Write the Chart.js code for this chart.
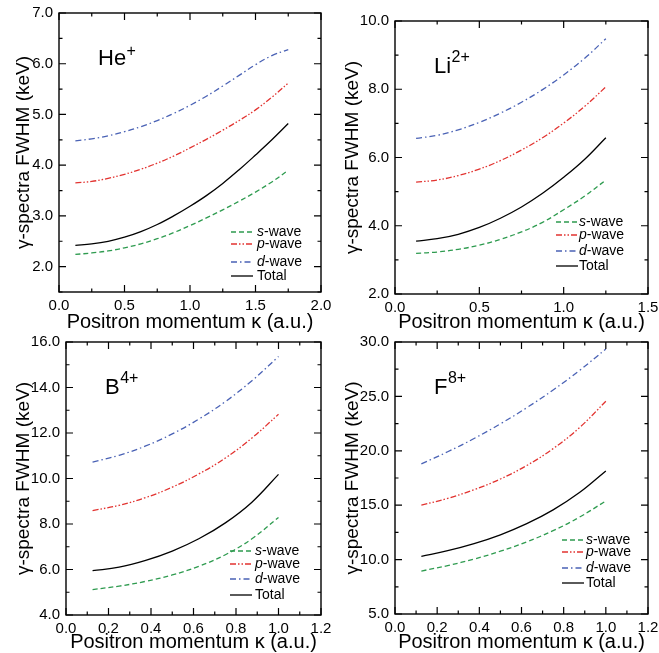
<!DOCTYPE html>
<html lang="en">
<head>
<meta charset="UTF-8" />
<title>Gamma-spectra FWHM vs positron momentum</title>
<script src="https://cdn.jsdelivr.net/npm/chart.js"></script>
<style>
  body { margin: 0; background: #fff; }
  #wrap { position: relative; width: 659px; height: 653px; }
  #wrap canvas { position: absolute; left: 0; top: 0; }
</style>
</head>
<body>
<div id="wrap">
  <canvas id="chartHe" width="659" height="653"></canvas>
  <canvas id="chartLi" width="659" height="653"></canvas>
  <canvas id="chartB" width="659" height="653"></canvas>
  <canvas id="chartF" width="659" height="653"></canvas>
</div>

<script>
  // ---- data (keV) ----
  const heK = [0.125, 0.25, 0.375, 0.5, 0.625, 0.75, 0.875, 1.0, 1.125, 1.25, 1.375, 1.5, 1.625, 1.75];
  const heS = [2.24, 2.27, 2.31, 2.37, 2.45, 2.55, 2.67, 2.81, 2.96, 3.12, 3.29, 3.47, 3.67, 3.90];
  const heP = [3.65, 3.68, 3.74, 3.82, 3.92, 4.04, 4.18, 4.34, 4.51, 4.69, 4.88, 5.09, 5.34, 5.62];
  const heD = [4.48, 4.52, 4.58, 4.66, 4.76, 4.88, 5.02, 5.18, 5.36, 5.56, 5.77, 5.98, 6.16, 6.28];
  const heTot = [2.42, 2.45, 2.50, 2.58, 2.69, 2.83, 3.00, 3.19, 3.40, 3.64, 3.91, 4.20, 4.50, 4.82];

  const liK = [0.125, 0.25, 0.375, 0.5, 0.625, 0.75, 0.875, 1.0, 1.125, 1.25];
  const liS = [3.19, 3.23, 3.31, 3.43, 3.60, 3.82, 4.10, 4.47, 4.87, 5.34];
  const liP = [5.28, 5.34, 5.47, 5.66, 5.91, 6.22, 6.58, 7.01, 7.50, 8.07];
  const liD = [6.56, 6.65, 6.81, 7.03, 7.30, 7.62, 7.99, 8.42, 8.91, 9.48];
  const liTot = [3.55, 3.62, 3.75, 3.95, 4.22, 4.55, 4.95, 5.42, 5.95, 6.58];

  const bK = [0.125, 0.25, 0.375, 0.5, 0.625, 0.75, 0.875, 1.0];
  const bS = [5.12, 5.27, 5.48, 5.76, 6.14, 6.65, 7.35, 8.29];
  const bP = [8.59, 8.82, 9.16, 9.62, 10.20, 10.90, 11.78, 12.82];
  const bD = [10.72, 11.02, 11.43, 11.96, 12.61, 13.38, 14.30, 15.36];
  const bTot = [5.95, 6.10, 6.40, 6.81, 7.35, 8.05, 8.96, 10.18];

  const fK = [0.125, 0.25, 0.375, 0.5, 0.625, 0.75, 0.875, 1.0];
  const fS = [8.95, 9.45, 10.05, 10.77, 11.63, 12.66, 13.90, 15.39];
  const fP = [15.0, 15.63, 16.42, 17.41, 18.65, 20.20, 22.13, 24.55];
  const fD = [18.8, 19.91, 21.13, 22.48, 23.96, 25.59, 27.38, 29.35];
  const fTot = [10.3, 10.82, 11.47, 12.28, 13.30, 14.57, 16.16, 18.15];

  const seriesLabels = ['s-wave', 'p-wave', 'd-wave', 'Total'];
  const xTitle = 'Positron momentum \u03ba (a.u.)';
  const yTitle = '\u03b3-spectra FWHM (keV)';

  const FONT = '"Liberation Sans", Arial, Helvetica, sans-serif';
  const lineStyles = [
    { color: '#2e9b4f', dash: [5, 3] },
    { color: '#e23330', dash: [6, 2, 1.5, 2, 1.5, 2] },
    { color: '#4a62b5', dash: [6, 3, 1.5, 3] },
    { color: '#000000', dash: [] }
  ];

  // panel layout (pixel boxes of each plot frame)
  const panels = [
    { id: 'chartHe', ion: 'He', charge: '+', supDy: -9, k: heK, ys: [heS, heP, heD, heTot],
      ox: 0, area: { left: 59, top: 13, right: 321, bottom: 292 }, xTitleY: 322,
      x: { max: 2.0, step: 0.5, minor: 0.25 }, y: { min: 1.5, max: 7.0, step: 1.0, minor: 0.5 },
      leg: { lx: -90, tx: -64, dy: [-60, -48, -30, -16] } },
    { id: 'chartLi', ion: 'Li', charge: '2+', supDy: -11, k: liK, ys: [liS, liP, liD, liTot],
      ox: 329, area: { left: 395, top: 21, right: 648, bottom: 294 }, xTitleY: 322,
      x: { max: 1.5, step: 0.5, minor: 0.25 }, y: { min: 2.0, max: 10.0, step: 2.0, minor: 1.0 },
      leg: { lx: -92, tx: -69, dy: [-72, -59, -43, -28] } },
    { id: 'chartB', ion: 'B', charge: '4+', supDy: -11, k: bK, ys: [bS, bP, bD, bTot],
      ox: 0, area: { left: 66, top: 342, right: 321, bottom: 615 }, xTitleY: 642,
      x: { max: 1.2, step: 0.2, minor: 0.1 }, y: { min: 4.0, max: 16.0, step: 2.0, minor: 1.0 },
      leg: { lx: -91, tx: -66, dy: [-64, -51, -36, -20] } },
    { id: 'chartF', ion: 'F', charge: '8+', supDy: -11, k: fK, ys: [fS, fP, fD, fTot],
      ox: 329, area: { left: 395, top: 342, right: 648, bottom: 614 }, xTitleY: 642,
      x: { max: 1.2, step: 0.2, minor: 0.1 }, y: { min: 5.0, max: 30.0, step: 5.0, minor: 2.5 },
      leg: { lx: -86, tx: -62, dy: [-74, -62, -46, -31] } }
  ];

  // frame, inward ticks, ion label and in-plot legend
  const decorPlugin = {
    id: 'decor',
    afterDraw(chart) {
      const cfg = chart.options.plugins.decor;
      const { ctx, chartArea: a } = chart;
      const xs = chart.scales.x, ys = chart.scales.y;
      ctx.save();
      ctx.strokeStyle = '#000';
      ctx.lineWidth = 1.4;
      ctx.setLineDash([]);
      ctx.strokeRect(a.left, a.top, a.right - a.left, a.bottom - a.top);

      ctx.lineWidth = 1.2;
      const isMajor = (v, step) => Math.abs(v / step - Math.round(v / step)) < 1e-6;
      for (let v = 0; v <= xs.max + 1e-9; v += cfg.x.minor) {
        const px = xs.getPixelForValue(v);
        const len = isMajor(v, cfg.x.step) ? 7 : 3.5;
        ctx.beginPath();
        ctx.moveTo(px, a.bottom); ctx.lineTo(px, a.bottom - len);
        ctx.moveTo(px, a.top); ctx.lineTo(px, a.top + len);
        ctx.stroke();
      }
      for (let v = ys.min; v <= ys.max + 1e-9; v += cfg.y.minor) {
        const py = ys.getPixelForValue(v);
        const len = isMajor(v, cfg.y.step) ? 7 : 3.5;
        ctx.beginPath();
        ctx.moveTo(a.left, py); ctx.lineTo(a.left + len, py);
        ctx.moveTo(a.right, py); ctx.lineTo(a.right - len, py);
        ctx.stroke();
      }

      // ion label with superscript charge
      ctx.fillStyle = '#000';
      ctx.textBaseline = 'alphabetic';
      ctx.textAlign = 'left';
      ctx.font = '22px ' + FONT;
      const lx = a.left + 39, ly = a.top + 52;
      ctx.fillText(cfg.ion, lx, ly);
      const w = ctx.measureText(cfg.ion).width;
      ctx.font = '16px ' + FONT;
      ctx.fillText(cfg.charge, lx + w + 0.5, ly + cfg.supDy);

      // legend
      chart.data.datasets.forEach((ds, i) => {
        const y = a.bottom + cfg.leg.dy[i];
        ctx.strokeStyle = ds.borderColor;
        ctx.lineWidth = 1.3;
        ctx.setLineDash(ds.borderDash || []);
        ctx.beginPath();
        ctx.moveTo(a.right + cfg.leg.lx, y);
        ctx.lineTo(a.right + cfg.leg.lx + 22, y);
        ctx.stroke();
        ctx.setLineDash([]);
        ctx.fillStyle = '#000';
        ctx.textBaseline = 'middle';
        let tx = a.right + cfg.leg.tx;
        const label = ds.label;
        if (label.endsWith('-wave')) {
          ctx.font = 'italic 14px ' + FONT;
          ctx.fillText(label[0], tx, y);
          tx += ctx.measureText(label[0]).width;
          ctx.font = '14px ' + FONT;
          ctx.fillText(label.slice(1), tx, y);
        } else {
          ctx.font = '14px ' + FONT;
          ctx.fillText(label, tx, y);
        }
      });
      ctx.restore();
    }
  };

  panels.forEach(p => {
    const yWidth = p.area.left - p.ox;
    const xHeight = p.xTitleY - p.area.bottom + 12;
    new Chart(document.getElementById(p.id), {
      type: 'line',
      data: {
        datasets: p.ys.map((vals, i) => ({
          label: seriesLabels[i],
          data: p.k.map((k, j) => ({ x: k, y: vals[j] })),
          borderColor: lineStyles[i].color,
          borderDash: lineStyles[i].dash,
          borderWidth: 1.3,
          pointRadius: 0,
          fill: false,
          tension: 0.4
        }))
      },
      options: {
        responsive: false,
        animation: false,
        events: [],
        layout: {
          padding: {
            left: p.ox,
            top: p.area.top,
            right: 659 - p.area.right,
            bottom: 653 - p.area.bottom - xHeight
          }
        },
        plugins: {
          legend: { display: false },
          tooltip: { enabled: false },
          decor: { ion: p.ion, charge: p.charge, supDy: p.supDy, x: p.x, y: p.y, leg: p.leg }
        },
        scales: {
          x: {
            type: 'linear',
            min: 0,
            max: p.x.max,
            grid: { display: false, drawTicks: false },
            border: { display: false },
            ticks: {
              stepSize: p.x.step,
              padding: 5,
              maxRotation: 0,
              color: '#000',
              font: { family: FONT, size: 15 },
              callback: v => v.toFixed(1)
            },
            title: {
              display: true,
              text: xTitle,
              color: '#000',
              font: { family: FONT, size: 20, lineHeight: 1.2 },
              padding: 0
            },
            afterFit: s => { s.height = xHeight; s.paddingLeft = 0; s.paddingRight = 0; }
          },
          y: {
            type: 'linear',
            min: p.y.min,
            max: p.y.max,
            grid: { display: false, drawTicks: false },
            border: { display: false },
            ticks: {
              stepSize: p.y.step,
              includeBounds: false,
              padding: 6,
              color: '#000',
              font: { family: FONT, size: 15 },
              callback: v => v.toFixed(1)
            },
            title: {
              display: true,
              text: yTitle,
              color: '#000',
              font: { family: FONT, size: 19, lineHeight: 1.2 },
              padding: { top: 12.6, bottom: 0 }
            },
            afterFit: s => { s.width = yWidth; s.paddingTop = 0; s.paddingBottom = 0; }
          }
        }
      },
      plugins: [decorPlugin]
    });
  });
</script>
</body>
</html>
